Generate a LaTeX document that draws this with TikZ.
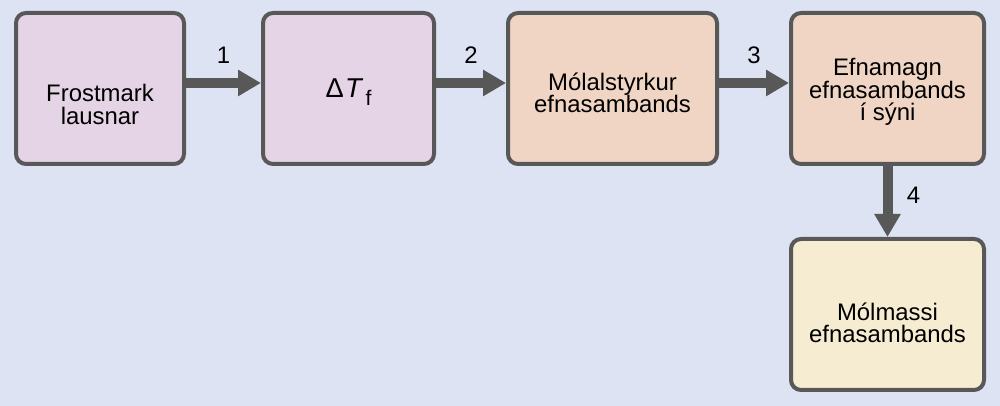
\documentclass[tikz,border=0pt]{standalone}
\usepackage{fontspec}
\setmainfont{Liberation Sans}
\usetikzlibrary{arrows.meta}
\definecolor{bg}{RGB}{221,227,243}
\definecolor{lilac}{RGB}{228,212,230}
\definecolor{peach}{RGB}{240,212,196}
\definecolor{cream}{RGB}{246,236,210}
\definecolor{edge}{RGB}{88,88,88}

\begin{document}
\begin{tikzpicture}[
        box/.style = {draw = edge, line width = 0.08cm, rounded corners = 0.2cm,
            minimum width = #1, minimum height = 3.02cm},
        txt/.style = {align = center, font = \fontsize{13.6}{12.8}\selectfont},
        flow/.style = {draw = edge, line width = 0.2cm,
            -{Triangle[length = 0.46cm, width = 0.5cm]}},
        num/.style = {font = \fontsize{13.6}{13}\selectfont}]
        \fill[bg] (0,0) rectangle (20,8.12);
        \useasboundingbox (0,0) rectangle (20,8.12);
        \node[box = 3.36cm, fill = lilac] (frost) at (2,6.35) {};
        \node[txt] (frosttxt) at ([yshift=-0.32cm]frost) {Frostmark\\lausnar};
        \node[box = 3.42cm, fill = lilac] (delta) at (6.97,6.35) {};
        \node[txt, font = \fontsize{15.5}{15}\selectfont] (deltatxt) at ([yshift=-0.08cm]delta)
            {Δ\kern0.05em\textit{T}\kern0.08em\raisebox{-0.3em}{\fontsize{12}{12}\selectfont f}};
        \node[box = 4.18cm, fill = peach] (molal) at (12.25,6.35) {};
        \node[txt] (molaltxt) at ([yshift=-0.09cm]molal) {Mólalstyrkur\\efnasambands};
        \node[box = 3.86cm, fill = peach] (amount) at (17.75,6.35) {};
        \node[txt] (amounttxt) at ([yshift=-0.07cm]amount) {Efnamagn\\efnasambands\\í sýni};
        \node[box = 3.86cm, fill = cream] (molar) at (17.75,1.83) {};
        \node[txt] (molartxt) at ([yshift=-0.17cm]molar) {Mólmassi\\efnasambands};
        \draw[flow] ([yshift=0.11cm]frost.east) -- node[num, above = 1.7mm] {1} ([yshift=0.11cm]delta.west);
        \draw[flow] ([yshift=0.11cm]delta.east) -- node[num, above = 1.7mm] {2} ([yshift=0.11cm]molal.west);
        \draw[flow] ([yshift=0.11cm]molal.east) -- node[num, above = 1.7mm] {3} ([yshift=0.11cm]amount.west);
        \draw[flow] (amount.south) -- node[num, right = 1.7mm, yshift = 0.13cm] {4} (molar.north);
    \end{tikzpicture}
\end{document}
